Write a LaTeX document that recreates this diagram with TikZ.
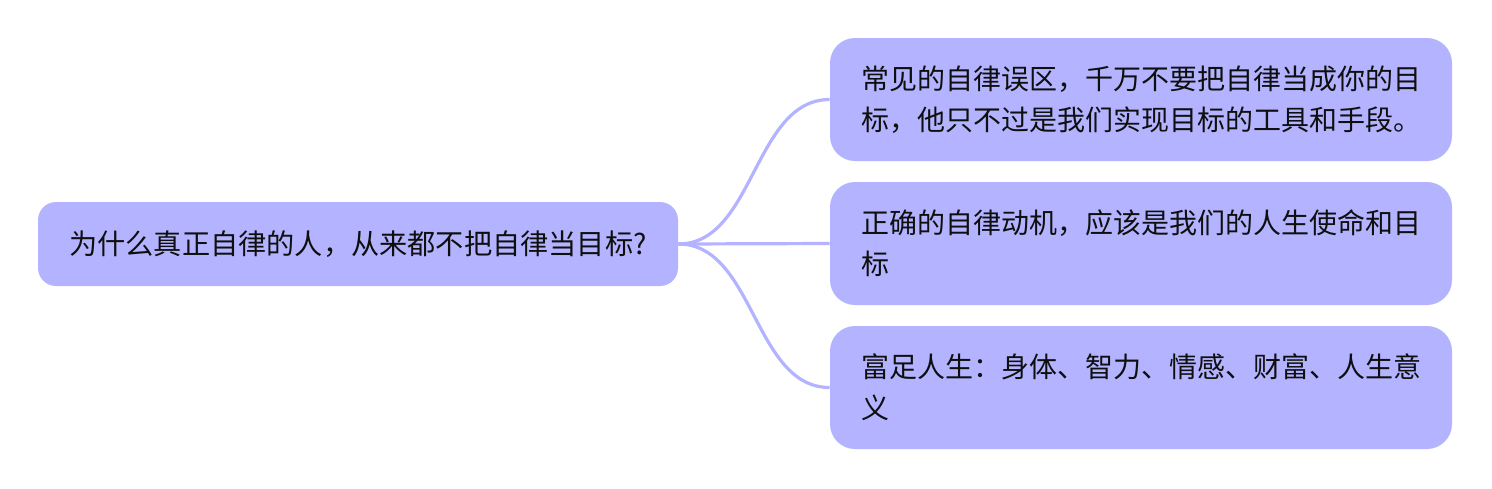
\documentclass[tikz,border=0pt]{standalone}
\usepackage{fontspec}
\newfontfamily\cjk{Noto Sans CJK SC}
\definecolor{nodefill}{RGB}{179,179,255}
\definecolor{txt}{RGB}{15,15,15}
\tikzset{
  rootbox/.style={fill=nodefill, rounded corners=9pt, minimum width=320pt, minimum height=42pt,
    inner sep=0pt, font=\cjk\fontsize{14.1pt}{20pt}\selectfont, text=txt, align=center},
  childbox/.style={fill=nodefill, rounded corners=12.5pt, minimum width=311pt, minimum height=61.5pt,
    inner xsep=15.5pt, inner ysep=0pt, text width=280pt, align=left,
    font=\cjk\fontsize{14pt}{20.5pt}\selectfont, text=txt},
  link/.style={draw=nodefill, line width=1.6pt}
}
\begin{document}
\begin{tikzpicture}[x=0.5pt,y=-0.5pt]
\useasboundingbox (0,0) rectangle (1492,488);
\node[rootbox] (root) at (358,244) {为什么真正自律的人，从来都不把自律当目标?};
\node[childbox] (c1) at (1141,99.5) {常见的自律误区，千万不要把自律当成你的目\\标，他只不过是我们实现目标的工具和手段。};
\node[childbox] (c2) at (1141,243.5) {正确的自律动机，应该是我们的人生使命和目\\标};
\node[childbox] (c3) at (1141,387.5) {富足人生：身体、智力、情感、财富、人生意\\义};
\draw[link] (root.east) .. controls +(38pt,0) and +(-38pt,0) .. (c1.west);
\draw[link] (root.east) -- (c2.west);
\draw[link] (root.east) .. controls +(38pt,0) and +(-38pt,0) .. (c3.west);
\end{tikzpicture}
\end{document}
